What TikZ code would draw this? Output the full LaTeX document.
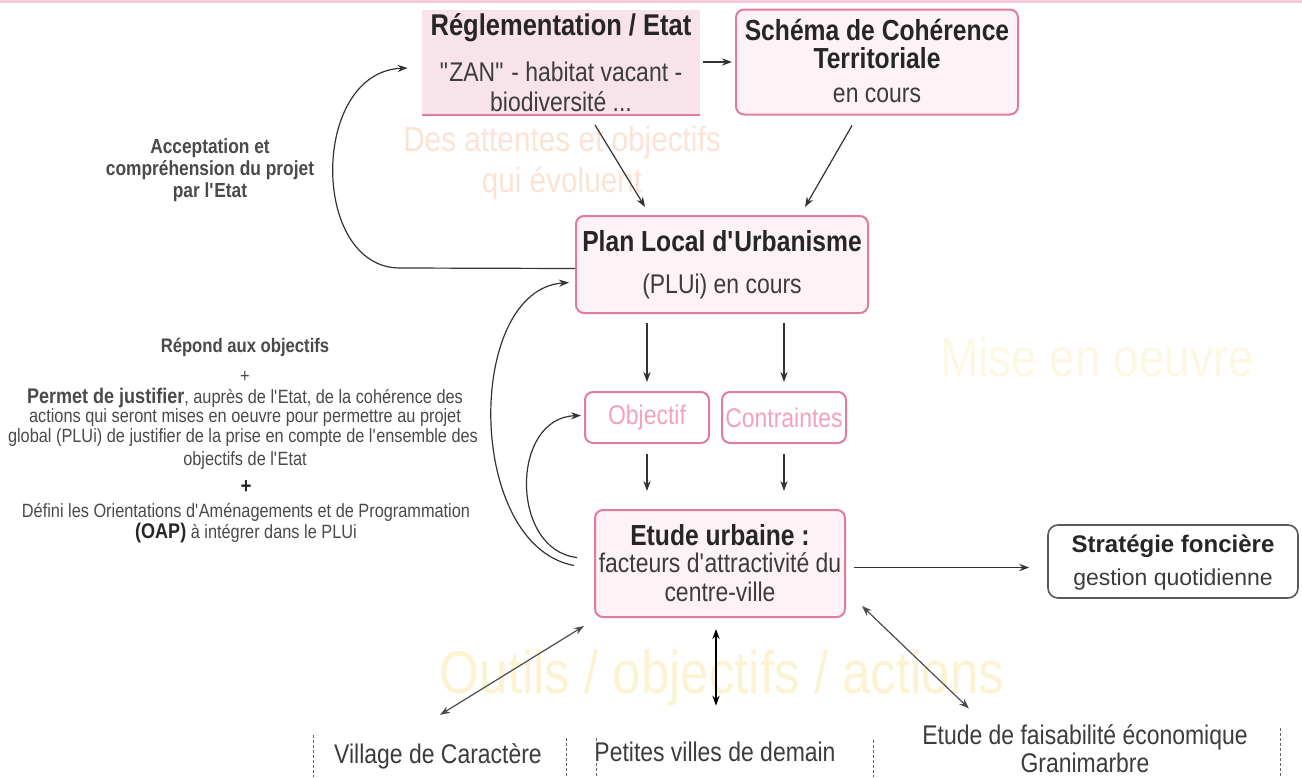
\documentclass[tikz,border=0pt]{standalone}
\usepackage{fontspec}
\setmainfont{Liberation Sans}[FakeStretch=0.85]
\newfontfamily\widefont{Liberation Sans}
\usetikzlibrary{arrows.meta}
\newcommand\apos{\textquotesingle}
\newcommand\dq{\textquotedbl}
\definecolor{pinkB}{HTML}{E07E9A}
\definecolor{pinkF}{HTML}{FDF2F5}
\definecolor{regF}{HTML}{F8E3EA}
\definecolor{pinkT}{HTML}{F2A2B9}
\definecolor{topline}{HTML}{F6CAD6}
\definecolor{ghostO}{HTML}{FBE4D6}
\definecolor{ghostY}{HTML}{FCF3D2}
\definecolor{ghostM}{HTML}{FDF8E4}
\definecolor{txt}{HTML}{262626}
\definecolor{gtxt}{HTML}{4A4A4A}
\begin{document}
\begin{tikzpicture}[x=0.5pt,y=-0.5pt,
  pbox/.style={draw=pinkB, line width=1pt, rounded corners=4pt, fill=pinkF, inner sep=0pt},
  regbox/.style={fill=regF, inner sep=0pt},
  obox/.style={draw=pinkB, line width=1pt, rounded corners=4pt, fill=white, inner sep=0pt, text=pinkT, font=\fontsize{13.5}{15}\selectfont},
  sbox/.style={draw=black!65, line width=0.8pt, rounded corners=5pt, fill=white, inner sep=0pt},
  ttl/.style={text=txt, font=\fontsize{14.5}{14}\selectfont\bfseries, align=center, inner sep=0pt},
  sub/.style={text=txt!90, font=\fontsize{13.5}{15}\selectfont, align=center, inner sep=0pt},
  ann/.style={text=gtxt, font=\fontsize{9.6}{10}\selectfont, align=center, inner sep=0pt},
  arr/.style={-{Stealth[length=5pt,width=3.6pt]}, line width=0.6pt, draw=black!80},
  darr/.style={{Stealth[length=5pt,width=3.6pt]}-{Stealth[length=5pt,width=3.6pt]}, line width=0.6pt, draw=black!70},
  dsh/.style={draw=black!60, line width=0.5pt, dash pattern=on 1.5pt off 1pt}]
\useasboundingbox (0,0) rectangle (1302,777);
\fill[white] (0,0) rectangle (1302,777);
\fill[topline] (0,0) rectangle (1302,3);

% ghost texts
\node[text=ghostO, font=\fontsize{17.5}{20.5}\selectfont, align=center, inner sep=0pt] (g1) at (562,163) {Des attentes et objectifs\\qui évoluent};
\node[text=ghostM, font=\fontsize{27}{30}\selectfont, inner sep=0pt] (g2) at (1097,357) {Mise en oeuvre};
\node[text=ghostY, font=\fontsize{30}{34}\selectfont, inner sep=0pt] (g3) at (722,678) {Outils / objectifs / actions};

% boxes
\node[regbox, minimum width=139pt, minimum height=52.5pt] (reg) at (561,62) {};
\draw[pinkB, line width=1.2pt] (reg.south west) -- (reg.south east);
\node[ttl, font=\fontsize{15}{15}\selectfont\bfseries] (regT) at (561,28) {Réglementation / Etat};
\node[sub] (regS) at (561,87) {\dq ZAN\dq{} - habitat vacant -\\biodiversité ...};

\node[pbox, minimum width=141pt, minimum height=52.5pt] (scot) at (877,62) {};
\node[ttl] (scotT) at (877,44) {Schéma de Cohérence\\Territoriale};
\node[sub] (scotS) at (877,95) {en cours};

\node[pbox, minimum width=146pt, minimum height=48.5pt] (plu) at (722,264.5) {};
\node[ttl] (pluT) at (722,241) {Plan Local d\apos Urbanisme};
\node[sub] (pluS) at (722,287) {(PLUi) en cours};

\node[obox, minimum width=62pt, minimum height=25.5pt] (obj) at (647,417.5) {Objectif};
\node[obox, minimum width=62pt, minimum height=25.5pt] (con) at (784,417.5) {Contraintes};

\node[pbox, minimum width=125pt, minimum height=53.5pt] (etude) at (720,563.5) {};
\node[ttl] (etudeT) at (720,535) {Etude urbaine :};
\node[sub, font=\fontsize{13.5}{14.5}\selectfont] (etudeS) at (720,577.5) {facteurs d\apos attractivité du\\centre-ville};

\node[sbox, minimum width=125pt, minimum height=36.5pt] (strat) at (1173,561.5) {};
\node[text=txt, font=\widefont\fontsize{12}{12}\selectfont\bfseries, inner sep=0pt] (stratT) at (1173,546) {Stratégie foncière};
\node[text=txt!90, font=\widefont\fontsize{11.5}{12}\selectfont, inner sep=0pt] (stratS) at (1173,580) {gestion quotidienne};

% bottom items
\node[sub] (village) at (438,756) {Village de Caractère};
\node[sub] (petites) at (715,752) {Petites villes de demain};
\node[sub, font=\fontsize{13.5}{14}\selectfont] (faisab) at (1085,749) {Etude de faisabilité économique\\Granimarbre};
\draw[dsh] (313,735) -- (313,777);
\draw[dsh] (566,738) -- (566,777);
\draw[dsh] (596,738) -- (596,777);
\draw[dsh] (873,740) -- (873,777);
\draw[dsh] (1280,728) -- (1280,777);

% annotations
\node[ann, font=\fontsize{10.2}{11}\selectfont\bfseries] (acc) at (210,170) {Acceptation et\\compréhension du projet\\par l\apos Etat};
\node[ann, font=\fontsize{9.8}{10}\selectfont\bfseries] (r1) at (245,347) {Répond aux objectifs};
\node[ann] (r2) at (245,377) {+};
\node[ann] (r3) at (245,398) {\textbf{\fontsize{10.6}{10}\selectfont Permet de justifier}, auprès de l\apos Etat, de la cohérence des};
\node[ann] (r4) at (245,418) {actions qui seront mises en oeuvre pour permettre au projet};
\node[ann] (r5) at (243,438) {global (PLUi) de justifier de la prise en compte de l\apos ensemble des};
\node[ann] (r6) at (245,461) {objectifs de l\apos Etat};
\node[ann, font=\fontsize{11}{10}\selectfont\bfseries, text=txt] (r7) at (246,487) {+};
\node[ann] (r8) at (246,512) {Défini les Orientations d\apos Aménagements et de Programmation};
\node[ann] (r9) at (246,533) {\textbf{\color{txt}\fontsize{10.6}{10}\selectfont(OAP)} à intégrer dans le PLUi};

% connectors
\coordinate (eE) at ([xshift=4pt,yshift=-2pt]etude.east);
\draw[arr] ([xshift=1.5pt]reg.east) -- ([xshift=-1.5pt]scot.west);
\draw[arr] ([xshift=17pt,yshift=-5pt]reg.south) -- ([xshift=-38.5pt,yshift=4pt]plu.north);
\draw[arr] ([xshift=-12.5pt,yshift=-5pt]scot.south) -- ([xshift=41.5pt,yshift=4pt]plu.north);
\draw[arr] ([yshift=-4.5pt]plu.south -| obj.north) -- ([yshift=4.5pt]obj.north);
\draw[arr] ([yshift=-4.5pt]plu.south -| con.north) -- ([yshift=4.5pt]con.north);
\draw[arr] ([yshift=-5pt]obj.south) -- ([yshift=9pt]etude.north -| obj.south);
\draw[arr] ([yshift=-5pt]con.south) -- ([yshift=9pt]etude.north -| con.south);
\draw[arr] (eE) -- ([xshift=-9pt]strat.west |- eE);
\draw[darr] ([xshift=-5pt,yshift=-4pt]etude.south west) -- ([xshift=1pt,yshift=14pt]village.north);
\draw[darr, line width=1pt, draw=black] ([xshift=-2pt,yshift=-5.5pt]etude.south) -- ([xshift=0.5pt,yshift=18pt]petites.north);
\draw[darr] ([xshift=8pt,yshift=6pt]etude.south east) -- ([xshift=-58pt,yshift=8pt]faisab.north);

% curved feedback connectors
\draw[arr] ([yshift=-2pt]plu.west) -- (400,268) .. controls (310,268) and (310,72) .. ([xshift=-7pt,yshift=-3pt]reg.west);
\draw[arr] ([xshift=-10pt,yshift=-1pt]etude.west) .. controls (465,545) and (465,290) .. ([xshift=-3pt,yshift=-9pt]plu.west);
\draw[arr] ([xshift=-8.5pt,yshift=3pt]etude.west) .. controls (510,550) and (510,418) .. ([xshift=-1.5pt,yshift=1pt]obj.west);
\end{tikzpicture}
\end{document}
